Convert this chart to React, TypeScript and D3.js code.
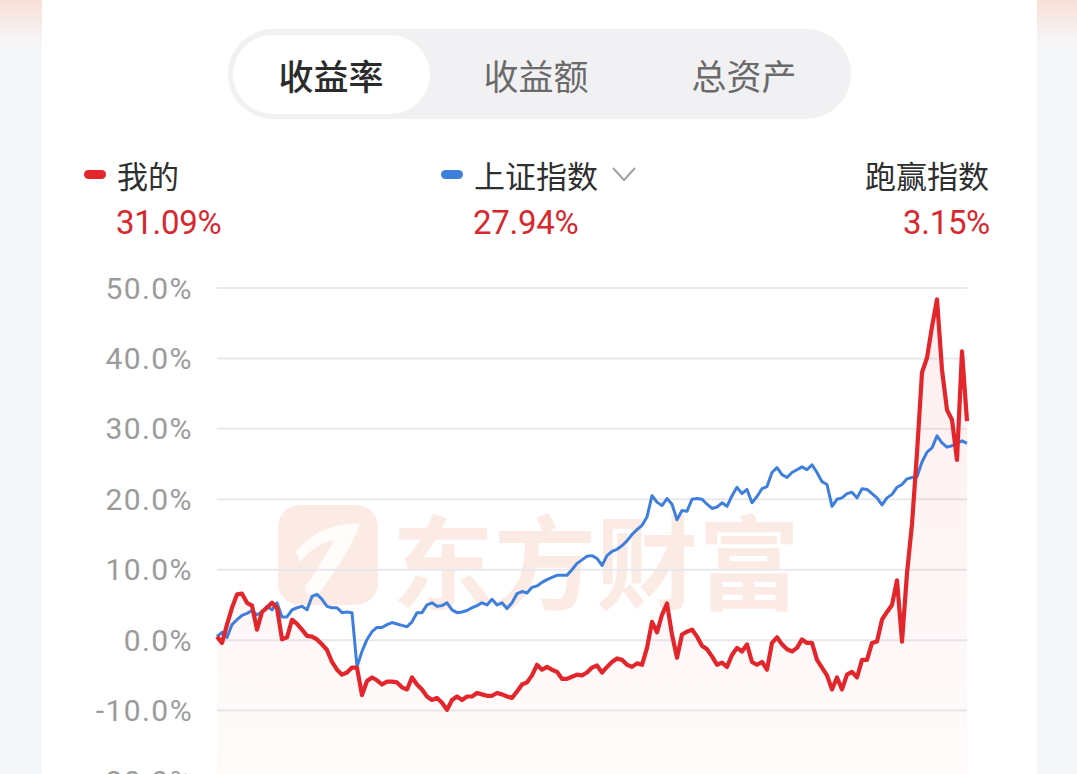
import React from "react";
import * as d3 from "d3";

const tabs = ["收益率", "收益额", "总资产"];
const legendMine = "我的";
const legendIndex = "上证指数";
const legendBeat = "跑赢指数";
const mineReturn = "31.09%";
const indexReturn = "27.94%";
const beatReturn = "3.15%";
const yTicks = [-20, -10, 0, 10, 20, 30, 40, 50];

const mine = [
  0.5, -0.4, 2.2, 4.6, 6.5, 6.6, 5.3, 4.9, 1.5, 4.0, 4.6, 5.3, 4.6, 0.1, 0.4, 2.9, 2.3, 1.5, 0.6, 0.5,
  0.1, -0.6, -1.4, -3.1, -4.2, -4.9, -4.6, -3.9, -3.9, -7.8, -5.8, -5.3, -5.7, -6.3, -5.9, -5.9, -6.0, -6.7, -7.0, -5.3,
  -6.3, -7.0, -8.0, -8.5, -8.2, -8.9, -9.9, -8.5, -8.0, -8.5, -8.0, -8.0, -7.5, -7.7, -7.9, -7.9, -7.5, -7.7, -8.0, -8.2,
  -7.3, -6.3, -6.0, -5.0, -3.5, -4.2, -3.8, -4.2, -4.5, -5.5, -5.5, -5.2, -4.9, -5.0, -4.6, -3.9, -3.6, -4.6, -3.8, -3.1,
  -2.6, -2.8, -3.5, -3.8, -3.3, -3.5, -1.1, 2.6, 1.1, 3.6, 5.2, 0.8, -2.5, 0.8, 1.2, 1.5, 0.5, -0.8, -1.3, -2.3,
  -3.5, -3.2, -3.8, -2.1, -1.1, -1.6, -0.6, -3.1, -3.5, -3.1, -4.2, -0.4, 0.4, -0.6, -1.3, -1.6, -1.1, 0.1, -0.4, -0.4,
  -2.8, -3.9, -5.0, -7.0, -5.3, -7.0, -4.9, -4.5, -5.3, -2.8, -2.8, -0.4, -0.2, 2.9, 4.0, 5.0, 8.5, -0.2, 9.5, 16.5,
  26.6, 38.0, 40.1, 44.5, 48.4, 38.4, 32.7, 31.3, 25.6, 41.0, 31.09,
];

const index = [
  0.5, 1.1, 0.4, 2.2, 2.9, 3.5, 3.8, 4.2, 3.6, 4.0, 4.8, 4.3, 5.3, 3.3, 3.3, 4.3, 4.6, 4.8, 4.3, 6.2,
  6.5, 5.8, 4.8, 4.6, 4.6, 3.9, 4.0, 3.9, -3.8, -1.6, 0.1, 1.2, 1.8, 1.8, 2.2, 2.5, 2.3, 2.1, 1.9, 2.6,
  3.9, 3.9, 5.0, 5.3, 4.8, 4.9, 5.3, 4.3, 3.9, 4.0, 4.2, 4.6, 4.9, 5.3, 5.0, 5.8, 5.0, 5.3, 4.5, 5.3,
  6.6, 6.9, 6.7, 7.5, 7.7, 8.2, 8.6, 8.9, 9.2, 9.2, 9.2, 10.0, 10.9, 11.4, 11.9, 12.0, 11.6, 10.6, 12.0, 12.6,
  12.9, 13.4, 14.1, 15.0, 15.7, 16.3, 17.5, 20.5, 19.6, 19.1, 20.1, 19.3, 17.1, 18.4, 18.3, 20.0, 20.1, 20.0, 19.3, 18.7,
  18.9, 19.5, 19.0, 20.5, 21.7, 20.8, 21.4, 19.5, 20.4, 21.5, 21.8, 23.8, 24.5, 23.5, 23.1, 23.8, 24.2, 24.6, 24.2, 24.9,
  23.8, 22.5, 22.1, 19.0, 20.0, 20.2, 20.8, 21.0, 20.2, 21.5, 21.4, 20.8, 20.2, 19.2, 20.2, 20.7, 21.7, 22.1, 22.9, 23.1,
  23.2, 25.3, 26.7, 27.3, 29.0, 28.0, 27.4, 27.6, 28.0, 28.3, 27.94,
];

const W = 1077;
const H = 774;
const RED = "#e3262c";
const BLUE = "#3f7fdc";
const VAL_RED = "#d8282e";

export default function App() {
  const x = d3.scaleLinear().domain([0, mine.length - 1]).range([217, 967]);
  const y = d3.scaleLinear().domain([-20, 50]).range([781, 288]);

  const lineGen = d3
    .line<number>()
    .x((_, i) => x(i))
    .y((d) => y(d))
    .curve(d3.curveLinear);
  const areaGen = d3
    .area<number>()
    .x((_, i) => x(i))
    .y0(y(-20))
    .y1((d) => y(d));

  const cjk = "'Noto Sans CJK SC', 'Noto Sans', sans-serif";
  const num = "Roboto, 'Noto Sans', sans-serif";

  const tabCenters = [331, 536, 744];

  return (
    <svg
      width={W}
      height={H}
      viewBox={`0 0 ${W} ${H}`}
      style={{ position: "absolute", left: 0, top: 0, display: "block" }}
    >
      <defs>
        <linearGradient id="sideGrad" x1="0" y1="0" x2="0" y2="1">
          <stop offset="0" stopColor="#f9dfd4" />
          <stop offset="1" stopColor="#f5f6f8" />
        </linearGradient>
        <linearGradient id="areaGrad" x1="0" y1="0" x2="0" y2="1">
          <stop offset="0" stopColor="#f04040" stopOpacity={0.09} />
          <stop offset="1" stopColor="#f04040" stopOpacity={0.02} />
        </linearGradient>
      </defs>

      {/* page background */}
      <rect x={0} y={0} width={W} height={H} fill="#f5f6f8" />
      <rect x={0} y={0} width={42} height={42} fill="url(#sideGrad)" />
      <rect x={1037} y={0} width={40} height={42} fill="url(#sideGrad)" />
      <rect x={42} y={0} width={995} height={H} fill="#ffffff" />

      {/* tabs */}
      <rect x={228} y={29} width={623} height={90} rx={45} fill="#f1f1f3" />
      <rect x={233} y={35} width={197} height={79} rx={39.5} fill="#ffffff" />
      {tabs.map((t, i) => (
        <text
          key={t}
          x={tabCenters[i]}
          y={74}
          textAnchor="middle"
          dominantBaseline="central"
          fontFamily={cjk}
          fontSize={35}
          fontWeight={i === 0 ? 500 : 400}
          fill={i === 0 ? "#2b2b2b" : "#6a6a6a"}
        >
          {t}
        </text>
      ))}

      {/* legend */}
      <rect x={84} y={170} width={22} height={9} rx={4.5} fill={RED} />
      <text x={117} y={174} dominantBaseline="central" fontFamily={cjk} fontSize={31} fill="#2f2f2f">
        {legendMine}
      </text>
      <text x={116} y={222} dominantBaseline="central" fontFamily={num} fontSize={33} letterSpacing={-0.3} fill={VAL_RED}>
        {mineReturn}
      </text>

      <rect x={441} y={170} width={22} height={9} rx={4.5} fill={BLUE} />
      <text x={474} y={174} dominantBaseline="central" fontFamily={cjk} fontSize={31} fill="#2f2f2f">
        {legendIndex}
      </text>
      <path d="M613,168 L624,180 L635,168" fill="none" stroke="#a0a0a0" strokeWidth={2} />
      <text x={473} y={222} dominantBaseline="central" fontFamily={num} fontSize={33} letterSpacing={-0.3} fill={VAL_RED}>
        {indexReturn}
      </text>

      <text x={989} y={174} textAnchor="end" dominantBaseline="central" fontFamily={cjk} fontSize={31} fill="#2f2f2f">
        {legendBeat}
      </text>
      <text x={990} y={222} textAnchor="end" dominantBaseline="central" fontFamily={num} fontSize={33} letterSpacing={-0.3} fill={VAL_RED}>
        {beatReturn}
      </text>

      {/* watermark */}
      <g opacity={0.5}>
        <rect x={278} y={505} width={100} height={100} rx={22} fill="#fbd9ca" />
        <path
          d="M296,552 C312,530 340,522 360,524 C352,545 340,566 320,592 C314,598 302,594 306,586 C318,568 328,552 334,540 C322,542 310,550 300,562 Z"
          fill="#ffffff"
          opacity={0.85}
        />
        <text
          x={392}
          y={557}
          dominantBaseline="central"
          fontFamily={cjk}
          fontSize={102}
          fontWeight={700}
          fill="#fbd9ca"
        >
          东方财富
        </text>
      </g>

      {/* grid */}
      {yTicks
        .filter((t) => t > -20)
        .map((t) => (
          <line key={`g${t}`} x1={217} x2={967} y1={y(t)} y2={y(t)} stroke="#e9e9ed" strokeWidth={2} />
        ))}
      {yTicks.map((t) => (
        <text
          key={`l${t}`}
          x={193}
          y={y(t)}
          textAnchor="end"
          dominantBaseline="central"
          fontFamily={num}
          fontSize={30}
          letterSpacing={1.4}
          fill="#9b9b9b"
        >
          {`${t.toFixed(1)}%`}
        </text>
      ))}

      {/* area + lines */}
      <path d={areaGen(mine) || ""} fill="url(#areaGrad)" />
      <path d={lineGen(index) || ""} fill="none" stroke={BLUE} strokeWidth={3} strokeLinejoin="round" />
      <path d={lineGen(mine) || ""} fill="none" stroke={RED} strokeWidth={4.2} strokeLinejoin="round" />
    </svg>
  );
}
